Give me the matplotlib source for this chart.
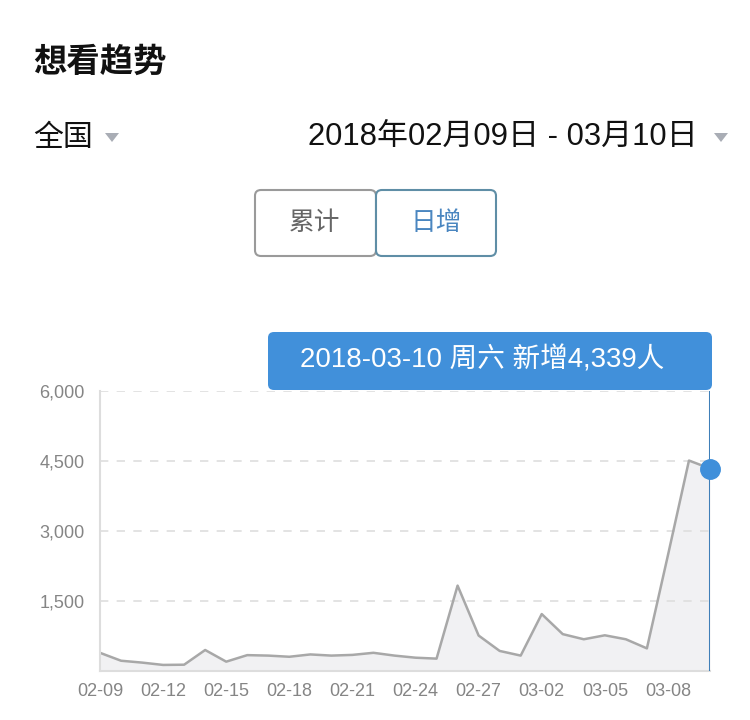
import matplotlib
matplotlib.use("Agg")
import matplotlib.pyplot as plt
from matplotlib.patches import FancyBboxPatch, Polygon

plt.rcParams['font.family'] = ['Liberation Sans', 'Noto Sans CJK SC', 'DejaVu Sans']
cjk = ['Noto Sans CJK SC', 'DejaVu Sans']

dates = ["02-09", "02-10", "02-11", "02-12", "02-13", "02-14", "02-15", "02-16",
         "02-17", "02-18", "02-19", "02-20", "02-21", "02-22", "02-23", "02-24",
         "02-25", "02-26", "02-27", "02-28", "03-01", "03-02", "03-03", "03-04",
         "03-05", "03-06", "03-07", "03-08", "03-09", "03-10"]
daily_new = [390, 220, 180, 130, 135, 450, 200, 340, 330, 305, 355, 330, 345, 390,
             330, 285, 265, 1830, 760, 430, 330, 1220, 790, 680, 765, 680, 485,
             2480, 4510, 4339]
y_ticks = [1500, 3000, 4500, 6000]
y_tick_labels = ["1,500", "3,000", "4,500", "6,000"]
tooltip_text = "2018-03-10 周六 新增4,339人"

W, H = 750, 720
fig = plt.figure(figsize=(W / 100, H / 100), dpi=100)


def fx(px):
    return px / W


def fy(py):
    return 1 - py / H


# header
fig.text(fx(33), fy(62), "想看趋势", fontsize=24, fontweight='bold', color='#111111',
         va='center', ha='left', family=cjk)
fig.text(fx(33), fy(137), "全国", fontsize=21.5, color='#111111', va='center', ha='left',
         family=cjk)
fig.text(fx(698), fy(137), "2018年02月09日 - 03月10日", fontsize=22.3, color='#111111',
         va='center', ha='right')
for cx in (112, 721):
    tri = Polygon([(fx(cx - 7), fy(133)), (fx(cx + 7), fy(133)), (fx(cx), fy(142))],
                  closed=True, transform=fig.transFigure, color='#a9adb5', lw=0)
    fig.patches.append(tri)

# toggle buttons
left_btn = FancyBboxPatch((fx(255), fy(256)), fx(121), fy(190) - fy(256),
                          boxstyle="round,pad=0,rounding_size=0.008",
                          transform=fig.transFigure, facecolor='white',
                          edgecolor='#9a9a9a', lw=1.5)
right_btn = FancyBboxPatch((fx(376), fy(256)), fx(120), fy(190) - fy(256),
                           boxstyle="round,pad=0,rounding_size=0.008",
                           transform=fig.transFigure, facecolor='white',
                           edgecolor='#5f8ea6', lw=1.5)
fig.patches.extend([left_btn, right_btn])
fig.text(fx(315), fy(223), "累计", fontsize=18.5, color='#666666', va='center', ha='center',
         family=cjk)
fig.text(fx(436), fy(223), "日增", fontsize=18.5, color='#4a86c0', va='center', ha='center',
         family=cjk)

# chart
ax = fig.add_axes([fx(100), fy(671), fx(610), fy(391) - fy(671)])
x = list(range(len(dates)))
ax.fill_between(x, daily_new, 0, color='#f1f1f3', lw=0)
ax.plot(x, daily_new, color='#a8a8a8', lw=1.8)
ax.axvline(x[-1], color='#3f7fb8', lw=2.2, zorder=3)
ax.plot([x[-1]], [daily_new[-1]], 'o', color='#3f8fda', ms=14, zorder=4, clip_on=False)

ax.set_xlim(0, len(dates) - 1)
ax.set_ylim(0, 6000)
ax.set_yticks(y_ticks)
ax.set_yticklabels(y_tick_labels)
ax.set_xticks(x[::3])
ax.set_xticklabels(dates[::3])
ax.tick_params(axis='both', length=0, labelsize=13, colors='#858585')
ax.tick_params(axis='y', pad=11)
ax.tick_params(axis='x', pad=9)
ax.grid(axis='y', color='#dedede', linestyle=(0, (5, 5)), lw=1.2)
for side in ('top', 'right'):
    ax.spines[side].set_visible(False)
for side in ('left', 'bottom'):
    ax.spines[side].set_color('#dddddd')
    ax.spines[side].set_linewidth(1.5)

# tooltip
tip = FancyBboxPatch((fx(268), fy(390)), fx(444), fy(332) - fy(390),
                     boxstyle="round,pad=0,rounding_size=0.008",
                     transform=fig.transFigure, facecolor='#4190da',
                     edgecolor='none', zorder=5)
fig.patches.append(tip)
fig.text(fx(300), fy(360), tooltip_text, fontsize=19.9, color='white',
         va='center', ha='left', zorder=6)

fig.savefig("out.png", dpi=100, facecolor='white')
